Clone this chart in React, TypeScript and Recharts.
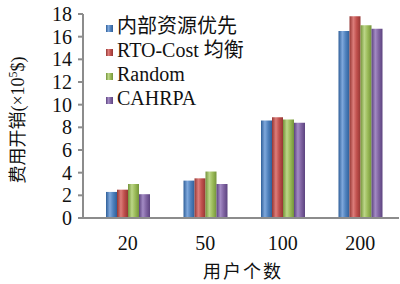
import React from 'react';
import { BarChart, Bar, XAxis, YAxis, Legend, Label } from 'recharts';

// user counts on the x axis
const categories = ['20', '50', '100', '200'];

// cost (x10^5 $) per strategy
const internalFirst = [2.3, 3.3, 8.6, 16.5];
const rtoCost = [2.5, 3.5, 8.9, 17.8];
const randomAlloc = [3.0, 4.1, 8.7, 17.0];
const cahrpa = [2.1, 3.0, 8.4, 16.7];

const yTicks = [0, 2, 4, 6, 8, 10, 12, 14, 16, 18];

const seriesNames = ['内部资源优先', 'RTO-Cost 均衡', 'Random', 'CAHRPA'];
const seriesColors = ['#4f81bd', '#c0504d', '#9bbb59', '#8064a2'];
const seriesDark = ['#2f5f99', '#953633', '#74943a', '#5c437f'];
const seriesLight = ['#7fa8dc', '#dc7d7a', '#bcd688', '#a38bc4'];

const data = categories.map((c, i) => ({
  name: c,
  s0: internalFirst[i],
  s1: rtoCost[i],
  s2: randomAlloc[i],
  s3: cahrpa[i],
}));

const FONT = "'Liberation Serif', 'Noto Sans CJK SC'";

const YTitle = () => (
  <text
    transform="translate(24,120) rotate(-90)"
    textAnchor="middle"
    style={{ fontFamily: FONT, fontSize: 18 }}
    fill="#111"
  >
    费用开销(×10
    <tspan dy={-7} style={{ fontSize: 12 }}>5</tspan>
    <tspan dy={7}>$)</tspan>
  </text>
);

const App: React.FC = () => {
  return (
    <div style={{ position: 'absolute', left: 0, top: 0, width: 400, height: 284, background: '#fff', fontFamily: FONT }}>
      <BarChart
        width={400}
        height={284}
        data={data}
        margin={{ top: 14, right: 1, left: 23, bottom: 36 }}
        barGap={0}
        barSize={11}
        style={{ fontFamily: FONT }}
      >
        <defs>
          {seriesColors.map((c, i) => (
            <linearGradient key={i} id={`cyl${i}`} x1="0" y1="0" x2="1" y2="0">
              <stop offset="0%" stopColor={seriesDark[i]} />
              <stop offset="35%" stopColor={seriesLight[i]} />
              <stop offset="65%" stopColor={c} />
              <stop offset="100%" stopColor={seriesDark[i]} />
            </linearGradient>
          ))}
        </defs>
        <XAxis
          dataKey="name"
          height={30}
          padding={{ left: 6, right: 0 }}
          tickLine={false}
          axisLine={{ stroke: '#8c8c8c', strokeWidth: 2 }}
          tickMargin={12}
          tick={{ fill: '#111', fontSize: 20, fontFamily: 'Liberation Serif' }}
        >
          <Label
            value="用户个数"
            position="insideBottom"
            offset={-30}
            dx={2}
            style={{ fill: '#111', fontSize: 18, fontFamily: FONT, letterSpacing: 2 }}
          />
        </XAxis>
        <YAxis
          width={60}
          domain={[0, 18]}
          ticks={yTicks}
          interval={0}
          tickSize={5}
          tickMargin={6}
          axisLine={{ stroke: '#8c8c8c', strokeWidth: 2 }}
          tickLine={{ stroke: '#8c8c8c', strokeWidth: 2 }}
          tick={{ fill: '#111', fontSize: 20, fontFamily: 'Liberation Serif' }}
          label={<YTitle />}
        />
        <Legend
          layout="vertical"
          align="center"
          verticalAlign="middle"
          iconType="square"
          iconSize={7}
          itemSorter="dataKey"
          wrapperStyle={{ left: 106, top: 14, width: 'auto', fontFamily: FONT, fontSize: 20, lineHeight: '24px' }}
          formatter={(value: string) => <span style={{ color: '#111', fontFamily: FONT }}>{value}</span>}
        />
        {seriesNames.map((n, i) => (
          <Bar
            key={n}
            dataKey={`s${i}`}
            name={n}
            fill={`url(#cyl${i})`}
            legendType="square"
            isAnimationActive={false}
          />
        ))}
      </BarChart>
    </div>
  );
};

export default App;
